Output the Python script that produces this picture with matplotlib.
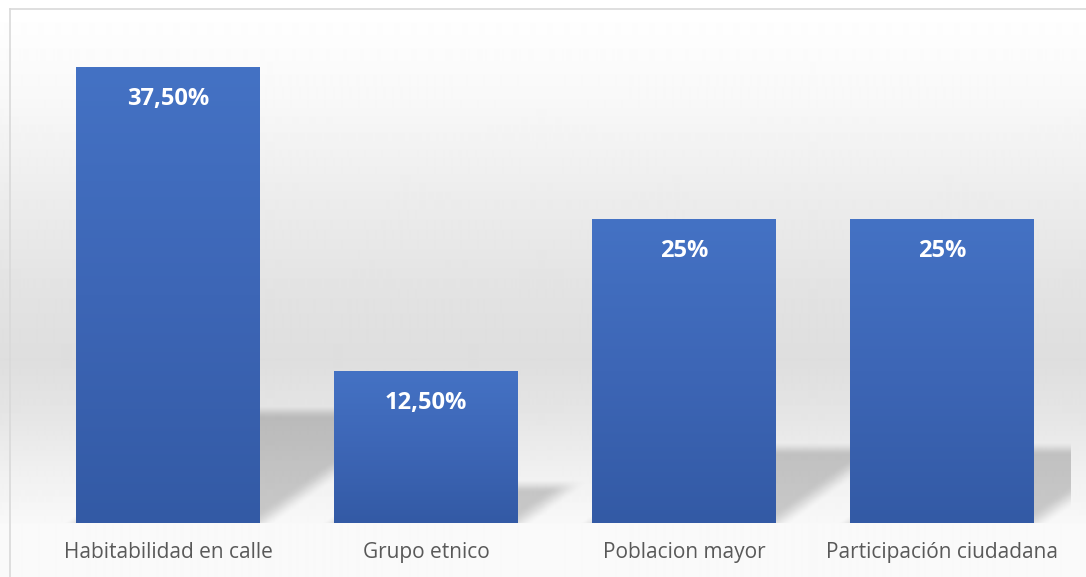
import numpy as np
import matplotlib
matplotlib.use("Agg")
import matplotlib.pyplot as plt
from matplotlib.colors import LinearSegmentedColormap
from matplotlib.lines import Line2D

categories = ["Habitabilidad en calle", "Grupo etnico", "Poblacion mayor", "Participación ciudadana"]
values = [37.5, 12.5, 25.0, 25.0]
value_labels = ["37,50%", "12,50%", "25%", "25%"]

W, H = 1086, 577
FONT = ["Open Sans", "DejaVu Sans"]

fig = plt.figure(figsize=(W / 100, H / 100), dpi=100)

# chart background: soft vertical gray gradient (pixel rows from the top)
rows_px = [0, 10, 100, 200, 300, 360, 420, 470, 522, 524, 577]
rows_gray = [255, 255, 248, 236, 226, 222, 230, 240, 248, 250, 250]
grad = np.interp(np.arange(H), rows_px, rows_gray) / 255
bg = fig.add_axes([0, 0, 1, 1], zorder=-10)
bg.imshow(np.repeat(grad[:, None], 2, axis=1), cmap="gray", vmin=0, vmax=1,
          aspect="auto", extent=(0, 1, 0, 1), interpolation="bilinear")
bg.set_xlim(0, 1)
bg.set_ylim(0, 1)
bg.axis("off")

# thin chart border (top and left visible)
border = "#d9d9d9"
fig.add_artist(Line2D([10 / W, 1], [1 - 9 / H] * 2, transform=fig.transFigure, color=border, lw=1.2))
fig.add_artist(Line2D([10 / W] * 2, [0, 1 - 9 / H], transform=fig.transFigure, color=border, lw=1.2))

ax_w, ax_h = 1032, 503
ax = fig.add_axes([39 / W, 54 / H, ax_w / W, ax_h / H])
ax.patch.set_visible(False)
for s in ax.spines.values():
    s.set_visible(False)

n = len(values)
bar_w = 0.713
x_lo, x_hi = -0.5, n - 0.5
y_hi = max(values) * 1.105

# perspective shadows behind the bars, built on a pixel grid of the axes
px_x = ax_w / (x_hi - x_lo)
px_y = ax_h / y_hi
XX, YY = np.meshgrid(np.arange(ax_w) + 0.5, np.arange(ax_h) + 0.5)
skew = 1.4
shadow_ratio = 0.245


def soft(d, blur):
    t = np.clip((d + blur) / (2 * blur), 0, 1)
    return t * t * (3 - 2 * t)


shade = np.zeros_like(XX)
for i, v in enumerate(values):
    left = (i - bar_w / 2 - x_lo) * px_x
    right = (i + bar_w / 2 - x_lo) * px_x
    sh = shadow_ratio * v * px_y
    d_top = sh - YY
    d_right = (right + skew * YY - XX) / np.hypot(1, skew)
    d_left = (XX - (left + skew * YY)) / np.hypot(1, skew)
    a = soft(d_top, 7) * soft(d_right, 10) * soft(d_left, 8)
    shade = np.maximum(shade, a)

rgba = np.zeros((ax_h, ax_w, 4))
rgba[..., 3] = 0.19 * shade
ax.imshow(rgba, origin="lower", extent=(x_lo, x_hi, 0, y_hi), aspect="auto",
          interpolation="bilinear", zorder=1)

# bars with vertical blue gradient
bar_cmap = LinearSegmentedColormap.from_list("bar", ["#335aa5", "#3d66b6", "#4472c4"])
bars = ax.bar(range(n), values, width=bar_w, color="none", edgecolor="none", zorder=2)
ramp = np.linspace(0, 1, 256)[:, None]
for b in bars:
    x0 = b.get_x()
    ax.imshow(ramp, cmap=bar_cmap, origin="lower", aspect="auto",
              extent=(x0, x0 + b.get_width(), 0, b.get_height()),
              clip_path=b, zorder=2)

for i, (v, lbl) in enumerate(zip(values, value_labels)):
    ax.annotate(lbl, (i, v), xytext=(0, -22.5), textcoords="offset points",
                ha="center", va="center", color="white", fontweight="bold",
                fontsize=17, family=FONT, zorder=3)

ax.set_xlim(x_lo, x_hi)
ax.set_ylim(0, y_hi)
ax.set_yticks([])
ax.set_xticks(range(n), categories)
ax.tick_params(axis="x", length=0, pad=14, labelsize=15, labelcolor="#595959")
for t in ax.get_xticklabels():
    t.set_family(FONT)

fig.savefig("out.png", dpi=100)
